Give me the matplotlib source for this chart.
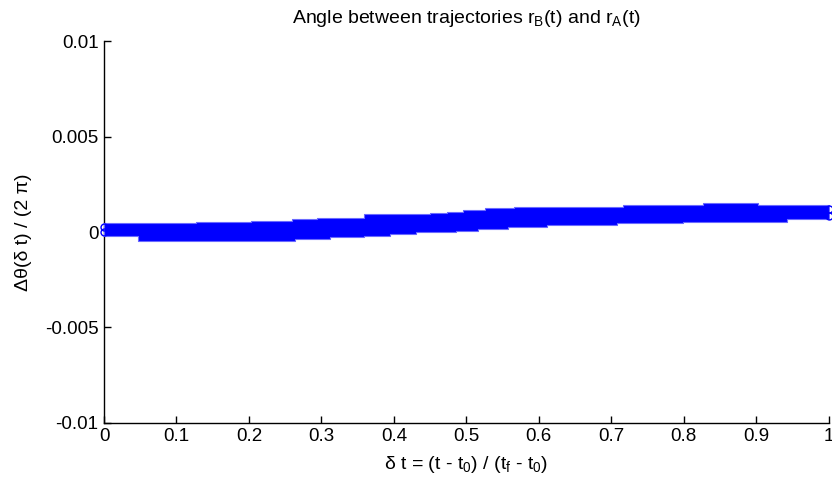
import matplotlib
matplotlib.use('Agg')
import matplotlib.pyplot as plt
import numpy as np

plt.rcParams['font.family'] = ['Liberation Sans', 'DejaVu Sans']
plt.rcParams['mathtext.fontset'] = 'custom'
plt.rcParams['mathtext.rm'] = 'Liberation Sans'
plt.rcParams['mathtext.it'] = 'Liberation Sans'
plt.rcParams['mathtext.default'] = 'regular'

# band of the scattered points (step edges)
upper_x = [0.0, 0.127, 0.203, 0.259, 0.294, 0.359, 0.450, 0.473, 0.495,
           0.526, 0.566, 0.716, 0.826, 0.903, 1.0]
upper_y = [0.000456, 0.000508, 0.000592, 0.000681, 0.000759, 0.000927,
           0.000979, 0.001063, 0.001152, 0.001241, 0.001325, 0.001414,
           0.001503, 0.001414, 0.001414]
lower_x = [0.0, 0.047, 0.263, 0.312, 0.359, 0.394, 0.430, 0.486, 0.516,
           0.557, 0.612, 0.708, 0.799, 0.942, 1.0]
lower_y = [-0.000194, -0.000471, -0.000367, -0.000278, -0.000194,
           -0.000105, -0.000016, 0.000068, 0.000157, 0.000246, 0.000387,
           0.000456, 0.000539, 0.000665, 0.000665]

xticks = [0, 0.1, 0.2, 0.3, 0.4, 0.5, 0.6, 0.7, 0.8, 0.9, 1]
xticklabels = ['0', '0.1', '0.2', '0.3', '0.4', '0.5', '0.6', '0.7', '0.8', '0.9', '1']
yticks = [-0.01, -0.005, 0, 0.005, 0.01]
yticklabels = ['-0.01', '-0.005', '0', '0.005', '0.01']

blue = '#0000ff'

fig = plt.figure(figsize=(8.32, 4.9), dpi=100, facecolor='white')
ax = fig.add_axes([0.125, 0.137, 0.871, 0.779])

# merge the two step edges onto one x grid for fill_between
xs = np.unique(np.concatenate([upper_x, lower_x]))
up = np.array([upper_y[np.searchsorted(upper_x, v, side='right') - 1] for v in xs])
lo = np.array([lower_y[np.searchsorted(lower_x, v, side='right') - 1] for v in xs])
ax.fill_between(xs, lo, up, step='post', color=blue, linewidth=0.8,
                edgecolor='#6a6aff', zorder=3)

# the markers at both ends spill past the axes
ax.plot([0, 0, 1, 1], [lo[0] + 0.0002, up[0] - 0.0002, lo[-1] + 0.0002, up[-1] - 0.0002],
        'o', mfc='none', mec=blue, ms=5, mew=1.0, clip_on=False, zorder=4)

ax.set_xlim(0, 1)
ax.set_ylim(-0.01, 0.01)
ax.set_xticks(xticks)
ax.set_xticklabels(xticklabels)
ax.set_yticks(yticks)
ax.set_yticklabels(yticklabels)
ax.tick_params(direction='in', length=5, width=1, labelsize=13.5, pad=4, color='black')
for s in ['top', 'right']:
    ax.spines[s].set_visible(False)
for s in ['left', 'bottom']:
    ax.spines[s].set_linewidth(1)

ax.set_title('Angle between trajectories r$_B$(t) and r$_A$(t)', fontsize=14, pad=13)
ax.set_xlabel('\u03b4 t = (t - t$_0$) / (t$_f$ - t$_0$)', fontsize=14, labelpad=6)
ax.set_ylabel('\u0394\u03b8(\u03b4 t) / (2 \u03c0)', fontsize=14, labelpad=9)

fig.savefig('out.png', dpi=100, facecolor='white')
